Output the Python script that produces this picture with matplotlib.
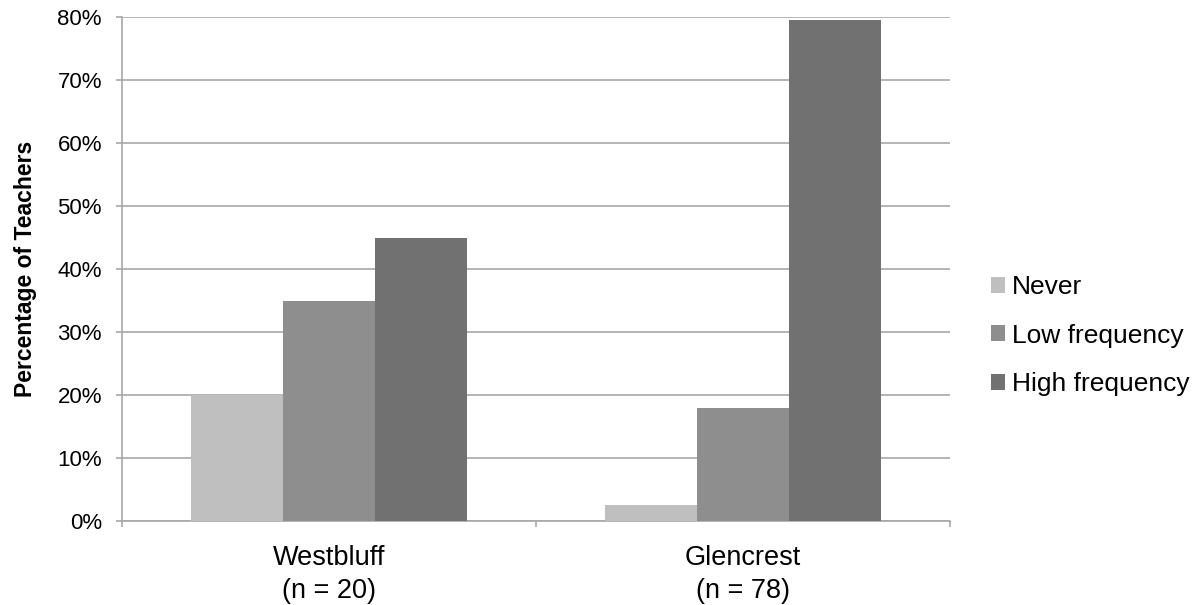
import matplotlib
matplotlib.use('Agg')
import matplotlib.pyplot as plt
import numpy as np
from matplotlib.patches import Patch
from matplotlib.ticker import PercentFormatter

plt.rcParams['font.family'] = ['Liberation Sans', 'DejaVu Sans']

## Data ##########
schools = ['Westbluff\n(n = 20)', 'Glencrest\n(n = 78)']
series = ['Never', 'Low frequency', 'High frequency']
never = [20, 2.56]
low_freq = [35, 17.9]
high_freq = [45, 79.5]
colors = ['#bfbfbf', '#8e8e8e', '#717171']
grid_col = '#a8a8a8'

fig = plt.figure(figsize=(12, 6.05), dpi=100)
ax = fig.add_axes([0.1017, 0.1388, 0.69, 0.8331])

x = np.arange(len(schools))
w = 0.222
for i, vals in enumerate([never, low_freq, high_freq]):
    ax.bar(x + (i - 1) * w, vals, width=w, color=colors[i], zorder=3)

ax.set_xlim(-0.5, 1.5)
ax.set_ylim(0, 80)
ax.set_yticks(np.arange(0, 81, 10))
ax.yaxis.set_major_formatter(PercentFormatter(decimals=0))
ax.grid(axis='y', color=grid_col, linewidth=1.2, zorder=0)

# category boundaries as ticks, labels centred via minor ticks
ax.set_xticks([-0.5, 0.5, 1.5])
ax.set_xticklabels([])
ax.set_xticks(x, minor=True)
ax.set_xticklabels(schools, minor=True, fontsize=19.5, linespacing=1.35)
ax.tick_params(axis='x', which='major', length=4.5, color=grid_col, width=1.2)
ax.tick_params(axis='x', which='minor', length=0, pad=17)
ax.tick_params(axis='y', length=4.5, color=grid_col, width=1.2, labelsize=16, pad=10)

for s in ['top', 'right']:
    ax.spines[s].set_visible(False)
for s in ['left', 'bottom']:
    ax.spines[s].set_color(grid_col)
    ax.spines[s].set_linewidth(1.2)

ax.set_ylabel('Percentage of Teachers', fontsize=16.5, fontweight='bold')
ax.yaxis.set_label_coords(-0.103, 0.5)

handles = [Patch(facecolor=c, label=l) for c, l in zip(colors, series)]
fig.legend(handles=handles, loc='center left', bbox_to_anchor=(0.806, 0.445),
           frameon=False, fontsize=19, handlelength=0.55, handleheight=0.55,
           handletextpad=0.25, labelspacing=0.92)

fig.savefig('out.png', dpi=100)
